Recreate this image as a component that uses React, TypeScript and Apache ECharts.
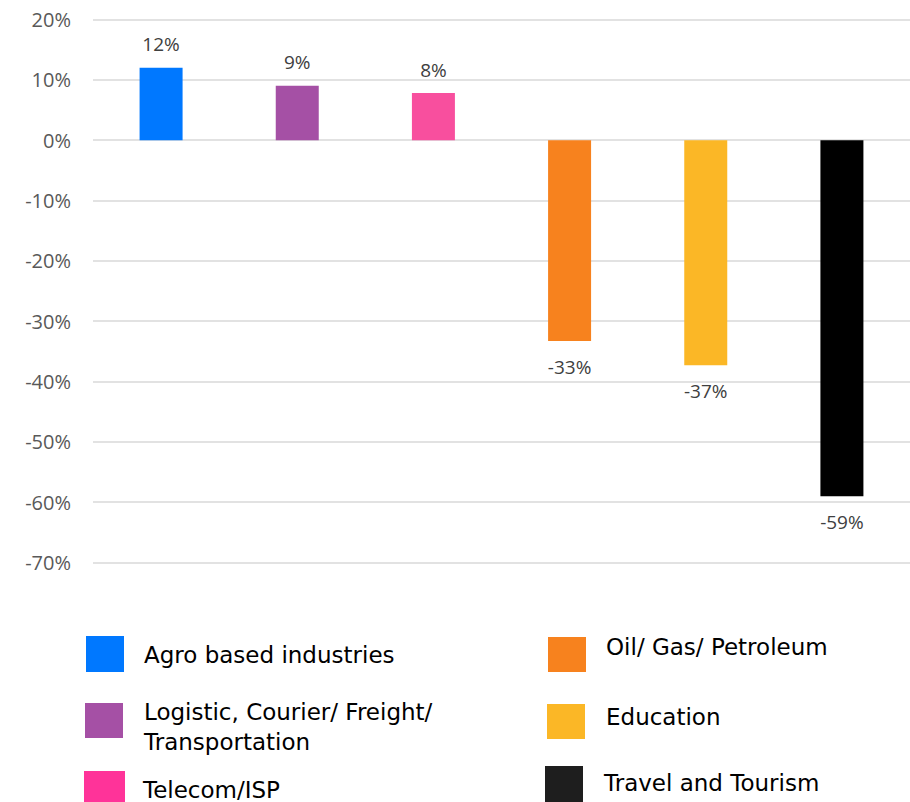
import React, { useEffect, useRef } from "react";
import * as echarts from "echarts";

const categories = [
  "Agro based industries",
  "Logistic, Courier/ Freight/ Transportation",
  "Telecom/ISP",
  "Oil/ Gas/ Petroleum",
  "Education",
  "Travel and Tourism",
];
const values = [12, 9, 7.8, -33.3, -37.3, -59];
const barColors = ["#0078FF", "#A550A5", "#F84F9E", "#F7821E", "#FBB726", "#000000"];
const legendColors = ["#0078FF", "#A550A5", "#FF3399", "#F7821E", "#FBB726", "#1E1E1E"];
const legendLabels = [
  "Agro based industries",
  "Logistic, Courier/ Freight/\nTransportation",
  "Telecom/ISP",
  "Oil/ Gas/ Petroleum",
  "Education",
  "Travel and Tourism",
];
const yMin = -70;
const yMax = 20;
const yInterval = 10;

// legend layout (positions only)
const legendBoxes = [
  { x: 86, y: 636, w: 38, h: 36, tx: 144, ty: 655 },
  { x: 85, y: 703, w: 38, h: 35, tx: 144, ty: 727 },
  { x: 84, y: 771, w: 41, h: 31, tx: 143, ty: 790 },
  { x: 548, y: 637, w: 38, h: 35, tx: 606, ty: 647 },
  { x: 547, y: 704, w: 38, h: 35, tx: 606, ty: 717 },
  { x: 545, y: 766, w: 38, h: 36, tx: 604, ty: 783 },
];

export default function App() {
  const ref = useRef<HTMLDivElement>(null);
  useEffect(() => {
    if (!ref.current) return;
    const chart = echarts.init(ref.current, undefined, { renderer: "svg" });
    const graphic: any[] = [];
    legendBoxes.forEach((b, i) => {
      graphic.push({
        type: "rect",
        shape: { x: b.x, y: b.y, width: b.w, height: b.h },
        style: { fill: legendColors[i] },
      });
      graphic.push({
        type: "text",
        x: b.tx,
        y: b.ty,
        style: {
          text: legendLabels[i],
          fill: "#000000",
          fontFamily: "DejaVu Sans",
          fontSize: 23,
          verticalAlign: "middle",
          align: "left",
          lineHeight: 30,
        },
      });
    });
    chart.setOption({
      animation: false,
      backgroundColor: "#ffffff",
      grid: { left: 93, top: 19.5, right: -5, height: 543, containLabel: false },
      xAxis: {
        type: "category",
        data: categories,
        axisLine: { show: false },
        axisTick: { show: false },
        axisLabel: { show: false },
        splitLine: { show: false },
      },
      yAxis: {
        type: "value",
        min: yMin,
        max: yMax,
        interval: yInterval,
        axisLine: { show: false },
        axisTick: { show: false },
        axisLabel: {
          formatter: "{value}%",
          color: "#595959",
          fontFamily: "Open Sans",
          fontSize: 20,
          margin: 22,
        },
        splitLine: { lineStyle: { color: "#D9D9D9", width: 1.5 } },
      },
      series: [
        {
          type: "bar",
          barWidth: 43,
          data: values.map((v, i) => ({
            value: v,
            itemStyle: { color: barColors[i] },
            label: {
              show: true,
              position: v >= 0 ? "top" : "bottom",
              distance: v >= 0 ? 14 : 16,
              formatter: () => Math.round(v) + "%",
              color: "#404040",
              fontFamily: "Open Sans",
              fontSize: 19,
            },
          })),
        },
      ],
      graphic,
    });
    return () => chart.dispose();
  }, []);
  return (
    <div
      ref={ref}
      style={{ position: "absolute", left: 0, top: 0, width: 910, height: 802 }}
    />
  );
}
